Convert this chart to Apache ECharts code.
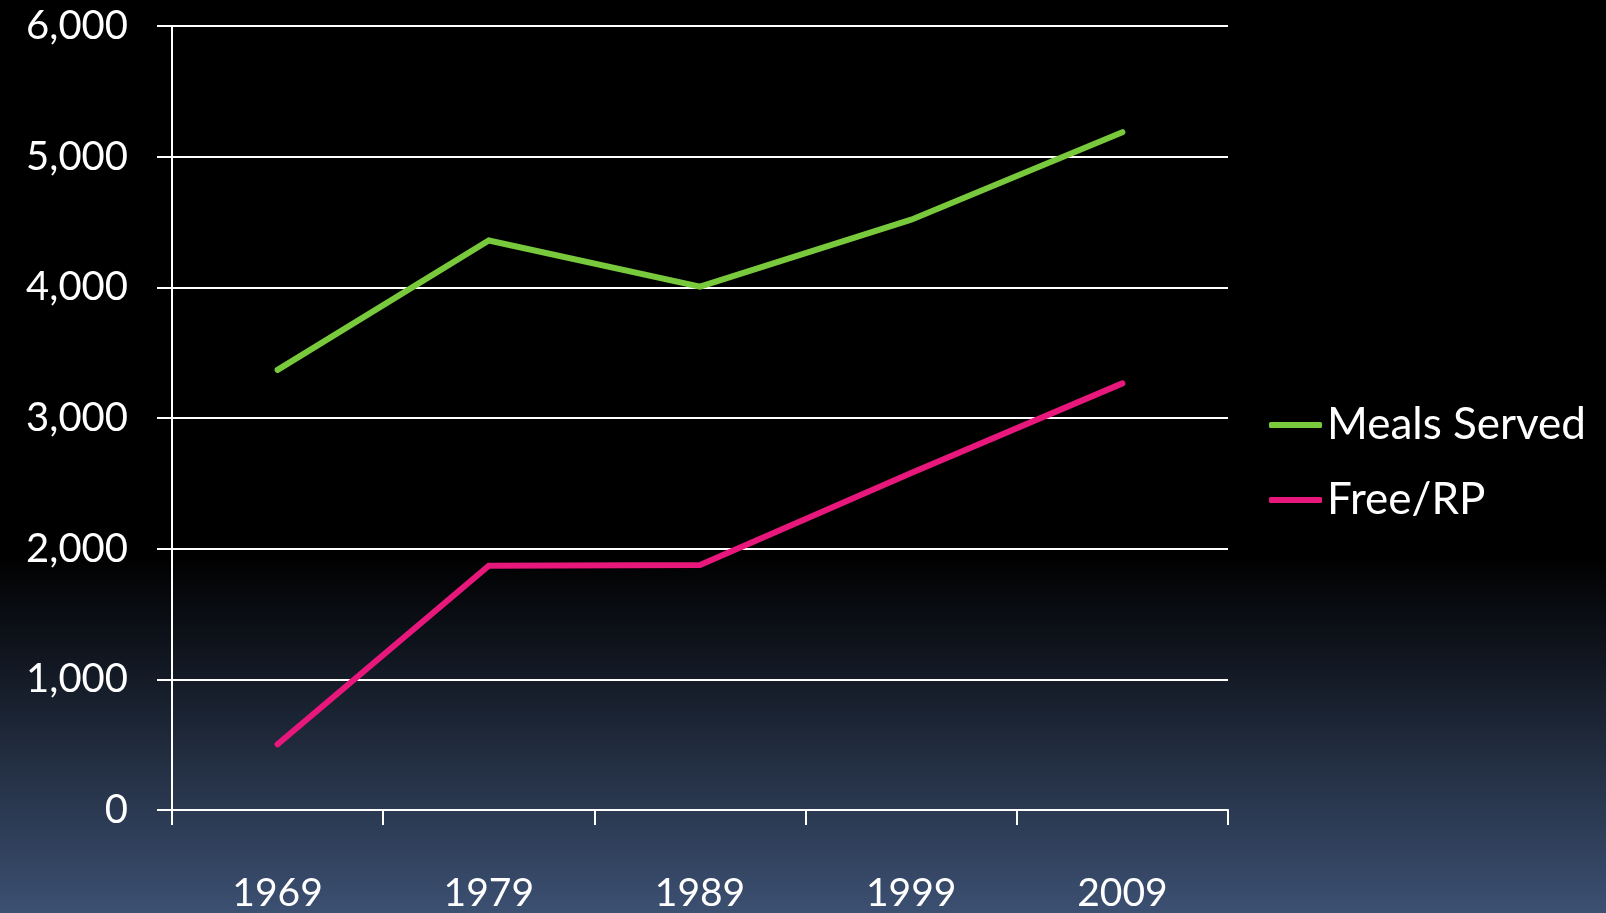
<!DOCTYPE html>
<html>
<head>
    <meta charset="utf-8">
    <title>Meals Served</title>
    <script src="https://cdn.jsdelivr.net/npm/echarts@6/dist/echarts.min.js"></script>
    <style>
        html, body { margin: 0; padding: 0; background: #000; }
        #main { width: 1606px; height: 913px; }
    </style>
</head>
<body>
<div id="main"></div>
<script>
// data
var years = ['1969', '1979', '1989', '1999', '2009'];
var mealsServed = [3368, 4358, 4005, 4518, 5187];
var freeRP = [503, 1870, 1875, 2580, 3265];
var yTicks = [0, 1000, 2000, 3000, 4000, 5000, 6000];

var chart = echarts.init(document.getElementById('main'));
var font = 'Lato, "Open Sans", sans-serif';

option = {
    backgroundColor: {
        type: 'linear', x: 0, y: 0, x2: 0, y2: 1,
        colorStops: [
            { offset: 0, color: '#000000' },
            { offset: 0.61, color: '#000000' },
            { offset: 1, color: '#3c5072' }
        ]
    },
    animation: false,
    grid: {
        left: 172,
        right: 378,
        top: 26,
        bottom: 103
    },
    legend: {
        orient: 'vertical',
        left: 1264,
        top: 395,
        icon: 'roundRect',
        itemWidth: 53,
        itemHeight: 6,
        itemGap: 25,
        itemStyle: { borderWidth: 0 },
        textStyle: {
            color: '#fff',
            fontFamily: font,
            fontSize: 44,
            lineHeight: 50
        },
        data: ['Meals Served', 'Free/RP']
    },
    xAxis: {
        type: 'category',
        data: years,
        boundaryGap: true,
        axisLine: { lineStyle: { color: '#fff', width: 2 } },
        axisTick: { show: true, length: 15, lineStyle: { color: '#fff', width: 2 } },
        axisLabel: {
            color: '#fff',
            fontFamily: font,
            fontSize: 39,
            margin: 64
        },
        splitLine: { show: false }
    },
    yAxis: {
        type: 'value',
        min: yTicks[0],
        max: yTicks[yTicks.length - 1],
        interval: 1000,
        axisLine: { show: true, lineStyle: { color: '#fff', width: 2 } },
        axisTick: { show: true, length: 15, lineStyle: { color: '#fff', width: 2 } },
        axisLabel: {
            color: '#fff',
            fontFamily: font,
            fontSize: 40,
            margin: 44,
            formatter: function (v) { return v.toLocaleString('en-US'); }
        },
        splitLine: { show: true, lineStyle: { color: '#fff', width: 2 } }
    },
    series: [{
        name: 'Meals Served',
        type: 'line',
        data: mealsServed,
        symbol: 'none',
        color: '#79c93c',
        lineStyle: { width: 6, cap: 'round', join: 'miter' }
    }, {
        name: 'Free/RP',
        type: 'line',
        data: freeRP,
        symbol: 'none',
        color: '#e8177b',
        lineStyle: { width: 6, cap: 'round', join: 'miter' }
    }]
};
chart.setOption(option);
</script>
</body>
</html>
